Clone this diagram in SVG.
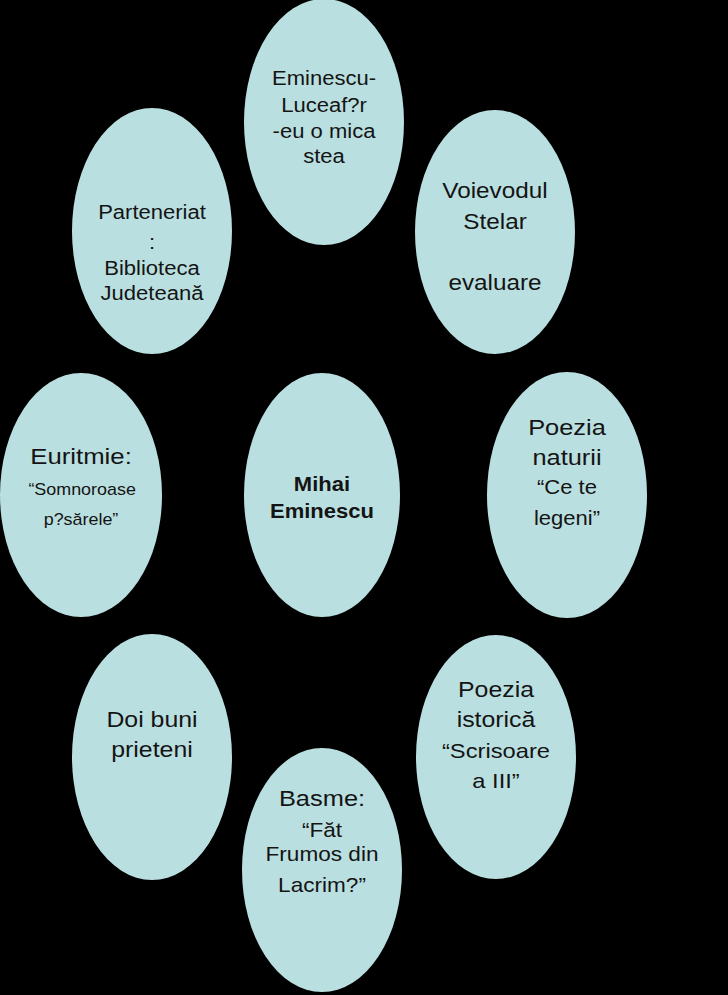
<svg xmlns="http://www.w3.org/2000/svg" width="728" height="995" viewBox="0 0 728 995">
<style>
.bg{fill:#000}
.n{fill:#badfe0}
text{font-family:"Liberation Sans",Arial,sans-serif;fill:#141414;text-anchor:middle}
.b{font-weight:bold}
</style>
<rect class="bg" x="0" y="0" width="728" height="995"/>
<g id="connectors"></g>
<g id="n-luceafar">
<ellipse class="n" cx="324" cy="122" rx="80" ry="123"/>
<g transform="translate(324 0) scale(1.13 1)"><text font-size="19.5"><tspan x="0" y="85">Eminescu-</tspan><tspan x="0" y="112">Luceaf?r</tspan><tspan x="0" y="138">-eu o mica</tspan><tspan x="0" y="163">stea</tspan></text></g>
</g>
<g id="n-parteneriat">
<ellipse class="n" cx="152" cy="231" rx="80" ry="123"/>
<g transform="translate(152 0) scale(1.13 1)"><text font-size="19.5"><tspan x="0" y="219">Parteneriat</tspan><tspan x="0" y="249">:</tspan><tspan x="0" y="275">Biblioteca</tspan><tspan x="0" y="300">Judeteană</tspan></text></g>
</g>
<g id="n-voievodul">
<ellipse class="n" cx="495" cy="232" rx="80" ry="122"/>
<g transform="translate(495 0) scale(1.13 1)"><text font-size="21.5"><tspan x="0" y="198">Voievodul</tspan><tspan x="0" y="229">Stelar</tspan><tspan x="0" y="290">evaluare</tspan></text></g>
</g>
<g id="n-euritmie">
<ellipse class="n" cx="81" cy="495" rx="81" ry="122"/>
<g transform="translate(81 0) scale(1.12 1)"><text font-size="23"><tspan x="0" y="464">Euritmie:</tspan></text><text font-size="16"><tspan x="1" y="495">“Somnoroase</tspan><tspan x="0" y="525">p?sărele”</tspan></text></g>
</g>
<g id="n-mihai">
<ellipse class="n" cx="322" cy="495" rx="78" ry="122"/>
<g transform="translate(322 0) scale(1.13 1)"><text class="b" font-size="19.5"><tspan x="0" y="491">Mihai</tspan><tspan x="0" y="518">Eminescu</tspan></text></g>
</g>
<g id="n-natura">
<ellipse class="n" cx="567" cy="495" rx="80" ry="123"/>
<g transform="translate(567 0) scale(1.13 1)"><text font-size="22.5"><tspan x="0" y="435">Poezia</tspan><tspan x="0" y="465">naturii</tspan></text><text font-size="19.5"><tspan x="0" y="494">“Ce te</tspan><tspan x="0" y="525">legeni”</tspan></text></g>
</g>
<g id="n-doi-buni">
<ellipse class="n" cx="152" cy="757" rx="80" ry="123"/>
<g transform="translate(152 0) scale(1.13 1)"><text font-size="22"><tspan x="0" y="727">Doi buni</tspan><tspan x="0" y="757">prieteni</tspan></text></g>
</g>
<g id="n-istorica">
<ellipse class="n" cx="496" cy="757" rx="80" ry="122"/>
<g transform="translate(496 0) scale(1.13 1)"><text font-size="22"><tspan x="0" y="697">Poezia</tspan><tspan x="0" y="727">istorică</tspan></text><text font-size="21"><tspan x="0" y="758">“Scrisoare</tspan><tspan x="0" y="788">a III”</tspan></text></g>
</g>
<g id="n-basme">
<ellipse class="n" cx="322" cy="870" rx="80" ry="122"/>
<g transform="translate(322 0) scale(1.13 1)"><text font-size="22.5"><tspan x="0" y="806">Basme:</tspan></text><text font-size="20"><tspan x="0" y="837">“Făt</tspan><tspan x="0" y="861">Frumos din</tspan><tspan x="0" y="892">Lacrim?”</tspan></text></g>
</g>
</svg>
